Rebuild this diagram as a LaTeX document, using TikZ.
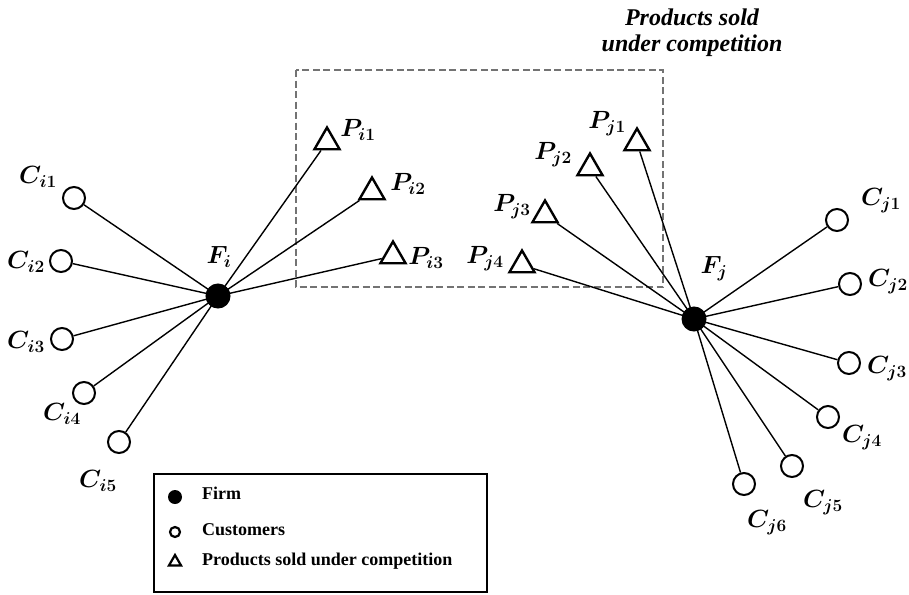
\documentclass[tikz,border=0pt]{standalone}
\usepackage{fontspec}
\setmainfont{Liberation Serif}
\usetikzlibrary{shapes.geometric}
\DeclareMathSizes{24}{24}{16}{12}
\begin{document}
\begin{tikzpicture}[x=1pt,y=-1pt,
  firm/.style={circle,fill=black,draw=black,line width=1pt,minimum size=24pt,inner sep=0pt},
  cust/.style={circle,draw=black,line width=2pt,minimum size=22pt,inner sep=0pt},
  prod/.style={regular polygon,regular polygon sides=3,draw=black,line width=2.4pt,minimum size=29pt,inner sep=0pt},
  link/.style={line width=1.4pt,black},
  lab/.style={inner sep=0pt,font=\fontsize{24}{28}\selectfont\boldmath},
  legtxt/.style={anchor=west,inner sep=0pt,font=\fontsize{18}{22}\selectfont\bfseries}]
\useasboundingbox (0,0) rectangle (909,594);

% group of competing products
\draw[gray!90!black,line width=2pt,dash pattern=on 7pt off 3.5pt] (296,70) rectangle (663,287);
\node[inner sep=0pt,align=center,font=\fontsize{24}{26}\selectfont\bfseries\itshape] (title) at (692,33) {Products sold\\under competition};

% firms
\node[firm] (Fi) at (218,296) {};
\node[firm] (Fj) at (694,319) {};
\node[lab] (LFi) at (219,257) {$F_i$};
\node[lab] (LFj) at (714,269) {$F_j$};

% customers of firm i
\node[cust] (Ci1) at (74,198) {};
\node[cust] (Ci2) at (61,261) {};
\node[cust] (Ci3) at (62,339) {};
\node[cust] (Ci4) at (84,393) {};
\node[cust] (Ci5) at (119,442) {};
\node[lab] (LCi1) at (38,177) {$C_{i1}$};
\node[lab] (LCi2) at (26,262) {$C_{i2}$};
\node[lab] (LCi3) at (26,342) {$C_{i3}$};
\node[lab] (LCi4) at (62,414) {$C_{i4}$};
\node[lab] (LCi5) at (98,481) {$C_{i5}$};

% customers of firm j
\node[cust] (Cj1) at (837,220) {};
\node[cust] (Cj2) at (850,284) {};
\node[cust] (Cj3) at (849,363) {};
\node[cust] (Cj4) at (828,417) {};
\node[cust] (Cj5) at (792,466) {};
\node[cust] (Cj6) at (744,484) {};
\node[lab] (LCj1) at (881,201) {$C_{j1}$};
\node[lab] (LCj2) at (888,282) {$C_{j2}$};
\node[lab] (LCj3) at (887,369) {$C_{j3}$};
\node[lab] (LCj4) at (862,438) {$C_{j4}$};
\node[lab] (LCj5) at (823,503) {$C_{j5}$};
\node[lab] (LCj6) at (767,523) {$C_{j6}$};

% products
\node[prod] (Pi1) at (327,142) {};
\node[prod] (Pi2) at (372,192) {};
\node[prod] (Pi3) at (393,256) {};
\node[prod] (Pj1) at (637,143) {};
\node[prod] (Pj2) at (590,168) {};
\node[prod] (Pj3) at (545,215) {};
\node[prod] (Pj4) at (522,265) {};
\node[lab] (LPi1) at (358,130) {$P_{i1}$};
\node[lab] (LPi2) at (408,184) {$P_{i2}$};
\node[lab] (LPi3) at (426,258) {$P_{i3}$};
\node[lab] (LPj1) at (607,124) {$P_{j1}$};
\node[lab] (LPj2) at (553,155) {$P_{j2}$};
\node[lab] (LPj3) at (512,207) {$P_{j3}$};
\node[lab] (LPj4) at (485,259) {$P_{j4}$};

% connectors
\foreach \n in {Ci1,Ci2,Ci3,Ci4,Ci5,Pi1,Pi2,Pi3}
  \draw[link] (Fi.center) -- (\n);
\foreach \n in {Cj1,Cj2,Cj3,Cj4,Cj5,Cj6,Pj1,Pj2,Pj3,Pj4}
  \draw[link] (Fj.center) -- (\n);

% legend
\draw[black,line width=2pt] (154,474) rectangle (487,592);
\node[circle,fill=black,minimum size=14pt,inner sep=0pt] (k1) at (175,497) {};
\node[circle,draw=black,line width=2.2pt,minimum size=10pt,inner sep=0pt] (k2) at (175,532) {};
\node[regular polygon,regular polygon sides=3,draw=black,line width=2.2pt,minimum size=14pt,inner sep=0pt] (k3) at (175,562) {};
\node[legtxt] (t1) at (202,493) {Firm};
\node[legtxt] (t2) at (202,530) {Customers};
\node[legtxt] (t3) at (202,561) {Products sold under competition};
\end{tikzpicture}
\end{document}
